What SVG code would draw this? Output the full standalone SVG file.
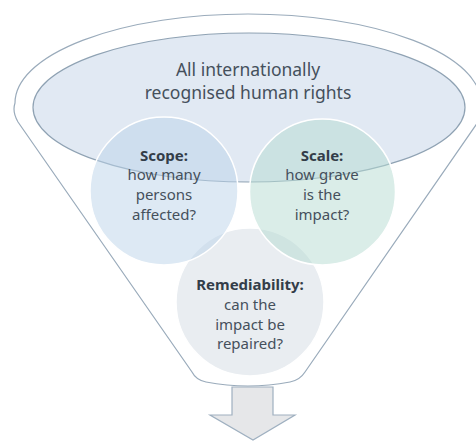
<svg xmlns="http://www.w3.org/2000/svg" width="476" height="441" viewBox="0 0 476 441">
  <style>
    .outline { fill: #ffffff; stroke: #9aabbb; stroke-width: 1.2; }
    .txt { font-family: "Noto Sans", "Liberation Sans", sans-serif; fill: #45505c; text-anchor: middle; }
    .title { font-size: 17.5px; }
    .lbl { font-size: 15px; }
    .bold { font-weight: bold; fill: #333d49; }
    .circ { stroke: #ffffff; stroke-width: 1.5; }
  </style>
  <g id="funnel">
    <path class="outline" d="M 18 122 Q 12 112 15 103 A 233 89 0 0 1 481 103 Q 484 112 478 122 L 305 372 Q 300 380 290 382 Q 248 390 206 382 Q 196 380 192 372 Z"/>
  </g>
  <g id="arrow">
    <path d="M 232 387 L 273 387 L 273 415 L 295 415 L 253 440 L 210 415 L 232 415 Z" fill="#e6e7e9" stroke="#9fb0c0" stroke-width="1.2"/>
  </g>
  <g id="all-rights">
    <ellipse cx="249" cy="107.5" rx="216" ry="74.5" fill="#e1e9f3" stroke="#8fa2b3" stroke-width="1.2"/>
    <text class="txt title" x="248" y="76">All internationally</text>
    <text class="txt title" x="248" y="99">recognised human rights</text>
  </g>
  <g id="remediability">
    <circle class="circ" cx="250" cy="302" r="74" fill="#e9edf1"/>
    <text class="txt lbl bold" x="250" y="290">Remediability:</text>
    <text class="txt lbl" x="250" y="310">can the</text>
    <text class="txt lbl" x="250" y="330">impact be</text>
    <text class="txt lbl" x="250" y="349">repaired?</text>
  </g>
  <g id="scope">
    <circle class="circ" cx="164" cy="191" r="74" fill="#bbd3e9" fill-opacity="0.5"/>
    <text class="txt lbl bold" x="164" y="161">Scope:</text>
    <text class="txt lbl" x="164" y="180">how many</text>
    <text class="txt lbl" x="164" y="200">persons</text>
    <text class="txt lbl" x="164" y="220">affected?</text>
  </g>
  <g id="scale">
    <circle class="circ" cx="322.5" cy="192" r="73" fill="#b6dcd2" fill-opacity="0.5"/>
    <text class="txt lbl bold" x="322" y="161">Scale:</text>
    <text class="txt lbl" x="322" y="180">how grave</text>
    <text class="txt lbl" x="322" y="200">is the</text>
    <text class="txt lbl" x="322" y="220">impact?</text>
  </g>
</svg>
